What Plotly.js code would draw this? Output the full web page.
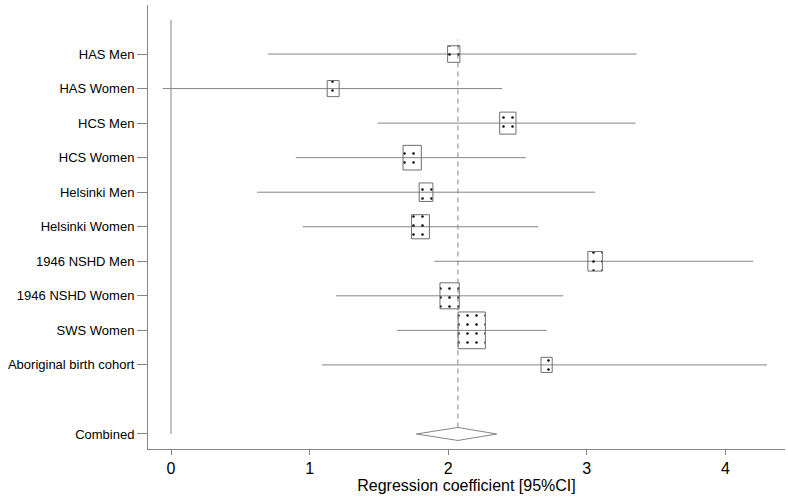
<!DOCTYPE html>
<html>
<head>
<meta charset="utf-8">
<script src="https://cdn.plot.ly/plotly-3.0.1.min.js"></script>
<style>
  html, body { margin: 0; padding: 0; background: #fff; }
  #forest { width: 788px; height: 497px; }
</style>
</head>
<body>
<div id="forest"></div>
<script>
// Study data
const studies = ['HAS Men', 'HAS Women', 'HCS Men', 'HCS Women', 'Helsinki Men',
                 'Helsinki Women', '1946 NSHD Men', '1946 NSHD Women', 'SWS Women',
                 'Aboriginal birth cohort'];
const estimate = [2.04, 1.17, 2.43, 1.74, 1.84, 1.80, 3.06, 2.01, 2.17, 2.71];
const ciLow    = [0.70, -0.06, 1.49, 0.90, 0.62, 0.95, 1.90, 1.19, 1.63, 1.09];
const ciHigh   = [3.36, 2.39, 3.35, 2.56, 3.06, 2.65, 4.20, 2.83, 2.71, 4.30];
const weight   = [5.3, 5.0, 9.3, 11.7, 6.6, 11.2, 7.4, 13.0, 26.0, 4.4];
const rowPos   = [12, 11, 10, 9, 8, 7, 6, 5, 4, 3];

// pooled estimate
const combinedLabel = 'Combined';
const combinedPos = 1;
const combinedEst = 2.07;
const combinedLow = 1.77;
const combinedHigh = 2.35;

const xTicks = [0, 1, 2, 3, 4];

// plot geometry, used to turn box pixel sizes into data units
const W = 788, H = 497;
const margin = { l: 148, r: 3, t: 5, b: 48 };
const xRange = [-0.166, 4.43];
const yRange = [0.565, 13.42];
const pxPerX = (W - margin.l - margin.r) / (xRange[1] - xRange[0]);
const pxPerY = (H - margin.t - margin.b) / (yRange[1] - yRange[0]);

const grey = '#858585';
const traces = [];

// confidence interval lines
studies.forEach((s, i) => {
    traces.push({
        x: [ciLow[i], ciHigh[i]],
        y: [rowPos[i], rowPos[i]],
        type: 'scatter',
        mode: 'lines',
        line: { color: grey, width: 1 },
        hoverinfo: 'skip',
        showlegend: false
    });
});

// weight boxes (area ~ weight), dotted fill
studies.forEach((s, i) => {
    const wPx = 5.34 * Math.sqrt(weight[i]);
    const hPx = 1.35 * wPx;
    const dx = wPx / 2 / pxPerX;
    const dy = hPx / 2 / pxPerY;
    const x0 = estimate[i] - dx, x1 = estimate[i] + dx;
    const y0 = rowPos[i] - dy, y1 = rowPos[i] + dy;
    traces.push({
        x: [x0, x1, x1, x0, x0],
        y: [y0, y0, y1, y1, y0],
        type: 'scatter',
        mode: 'lines',
        fill: 'toself',
        fillcolor: 'rgba(0,0,0,0)',
        fillpattern: { shape: '.', fgcolor: '#000000', bgcolor: 'rgba(0,0,0,0)', size: 9, solidity: 0.06 },
        line: { color: '#707070', width: 1 },
        name: s,
        text: `${s}: ${estimate[i]} [${ciLow[i]}, ${ciHigh[i]}]`,
        hoverinfo: 'text',
        showlegend: false
    });
});

// combined diamond
const dh = 6.5 / pxPerY;
traces.push({
    x: [combinedLow, combinedEst, combinedHigh, combinedEst, combinedLow],
    y: [combinedPos, combinedPos + dh, combinedPos, combinedPos - dh, combinedPos],
    type: 'scatter',
    mode: 'lines',
    fill: 'toself',
    fillcolor: '#ffffff',
    line: { color: grey, width: 1 },
    hoverinfo: 'skip',
    showlegend: false
});

const layout = {
    width: W,
    height: H,
    margin: margin,
    paper_bgcolor: '#ffffff',
    plot_bgcolor: '#ffffff',
    font: { family: 'Liberation Sans, Arial, sans-serif', color: '#000000' },
    showlegend: false,
    xaxis: {
        range: xRange,
        tickvals: xTicks,
        ticktext: xTicks.map(String),
        ticks: 'outside',
        ticklen: 5,
        tickcolor: grey,
        tickfont: { size: 16 },
        showline: true,
        linecolor: grey,
        linewidth: 1,
        showgrid: false,
        zeroline: false,
        title: { text: 'Regression coefficient [95%CI]', font: { size: 16 }, standoff: 2 }
    },
    yaxis: {
        range: yRange,
        tickvals: rowPos.concat([combinedPos]),
        ticktext: studies.concat([combinedLabel]),
        ticks: 'outside',
        ticklen: 10,
        tickcolor: grey,
        tickfont: { size: 13 },
        showline: true,
        linecolor: grey,
        linewidth: 1,
        showgrid: false,
        zeroline: false
    },
    shapes: [
        // line of no effect
        { type: 'line', xref: 'x', yref: 'y', x0: 0, x1: 0, y0: combinedPos, y1: 12.99,
          line: { color: grey, width: 1 } },
        // pooled estimate reference line
        { type: 'line', xref: 'x', yref: 'y', x0: combinedEst, x1: combinedEst,
          y0: combinedPos + dh, y1: 12.42, line: { color: grey, width: 1, dash: '5px,4px' } }
    ]
};

Plotly.newPlot('forest', traces, layout, { displayModeBar: false, staticPlot: true });
</script>
</body>
</html>
